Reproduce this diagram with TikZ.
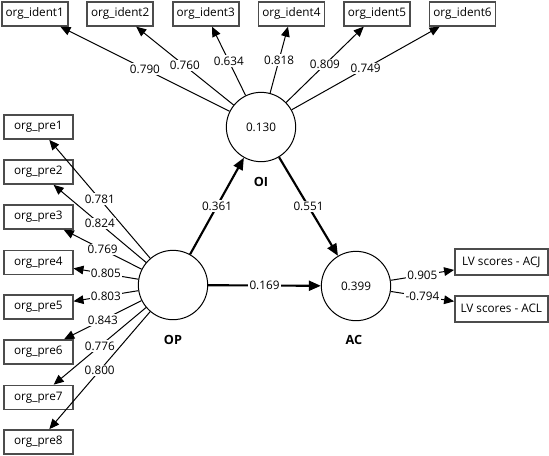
\documentclass[tikz,border=0pt]{standalone}
\usepackage{fontspec}
\setmainfont{Open Sans}
\usepackage{tikz}
\usetikzlibrary{shapes}
\usetikzlibrary{arrows.meta}
\tikzstyle{latent}=[circle,draw,line width=0.75pt,minimum size=52pt,inner sep=0pt,fill=white]
\tikzstyle{indic}=[rectangle,draw=black!70,line width=1.3pt,minimum width=49.5pt,minimum height=18pt,inner sep=1pt,fill=white]
\tikzstyle{prebox}=[indic,minimum width=51.5pt]
\tikzstyle{lvbox}=[indic,minimum width=69.5pt,minimum height=19.5pt]
\tikzstyle{nom}=[font=\bfseries\fontsize{9.5}{11}\selectfont]
\tikzstyle{poids}=[fill=white,inner sep=1pt]
\tikzstyle{charge}=[-{Triangle[length=7.5pt,width=6.5pt]},line width=0.75pt]
\tikzstyle{chemin}=[-{Triangle[length=9pt,width=7.5pt]},line width=1.6pt]

\begin{document}
\begin{tikzpicture}[x=0.75pt,y=-0.75pt,font=\fontsize{8.8}{10.5}\selectfont]
\useasboundingbox (0,0) rectangle (549,455);
\node[latent] (oi) at (261,127) {0.130};
\node[latent] (op) at (173,285) {};
\node[latent] (ac) at (356,286) {0.399};
\node[nom] (oilab) at (261,182) {OI};
\node[nom] (oplab) at (173,340) {OP};
\node[nom] (aclab) at (354,340) {AC};
\node[indic] (id1) at (34.7,13.8) {org\_ident1};
\node[indic] (id2) at (120.2,13.8) {org\_ident2};
\node[indic] (id3) at (205.7,13.8) {org\_ident3};
\node[indic] (id4) at (291.4,13.8) {org\_ident4};
\node[indic] (id5) at (376.9,13.8) {org\_ident5};
\node[indic] (id6) at (462.5,13.8) {org\_ident6};
\node[prebox] (pre1) at (38.3,127) {org\_pre1};
\node[prebox] (pre2) at (38.3,172) {org\_pre2};
\node[prebox] (pre3) at (38.3,217) {org\_pre3};
\node[prebox] (pre4) at (38.3,262.5) {org\_pre4};
\node[prebox] (pre5) at (38.3,307) {org\_pre5};
\node[prebox] (pre6) at (38.3,352) {org\_pre6};
\node[prebox] (pre7) at (38.3,397.5) {org\_pre7};
\node[prebox] (pre8) at (38.3,442) {org\_pre8};
\node[lvbox] (acj) at (501.3,262.2) {LV scores - ACJ};
\node[lvbox] (acl) at (501.3,308.7) {LV scores - ACL};
%Placement des fleches
\draw[charge] (oi) -- (id1) node[poids,midway]{0.790};
\draw[charge] (oi) -- (id2) node[poids,midway]{0.760};
\draw[charge] (oi) -- (id3) node[poids,midway]{0.634};
\draw[charge] (oi) -- (id4) node[poids,midway]{0.818};
\draw[charge] (oi) -- (id5) node[poids,midway]{0.809};
\draw[charge] (oi) -- (id6) node[poids,midway]{0.749};
\draw[charge] (op) -- (pre1) node[poids,midway]{0.781};
\draw[charge] (op) -- (pre2) node[poids,midway]{0.824};
\draw[charge] (op) -- (pre3) node[poids,midway]{0.769};
\draw[charge] (op) -- (pre4) node[poids,midway]{0.805};
\draw[charge] (op) -- (pre5) node[poids,midway]{0.803};
\draw[charge] (op) -- (pre6) node[poids,midway]{0.843};
\draw[charge] (op) -- (pre7) node[poids,midway]{0.776};
\draw[charge] (op) -- (pre8) node[poids,midway]{0.800};
\draw[charge] (ac) -- (acj) node[poids,midway]{0.905};
\draw[charge] (ac) -- (acl) node[poids,midway]{-0.794};
\draw[chemin] (op) -- (oi) node[poids,midway]{0.361};
\draw[chemin] (oi) -- (ac) node[poids,midway]{0.551};
\draw[chemin] (op) -- (ac) node[poids,midway]{0.169};
\end{tikzpicture}
\end{document}
